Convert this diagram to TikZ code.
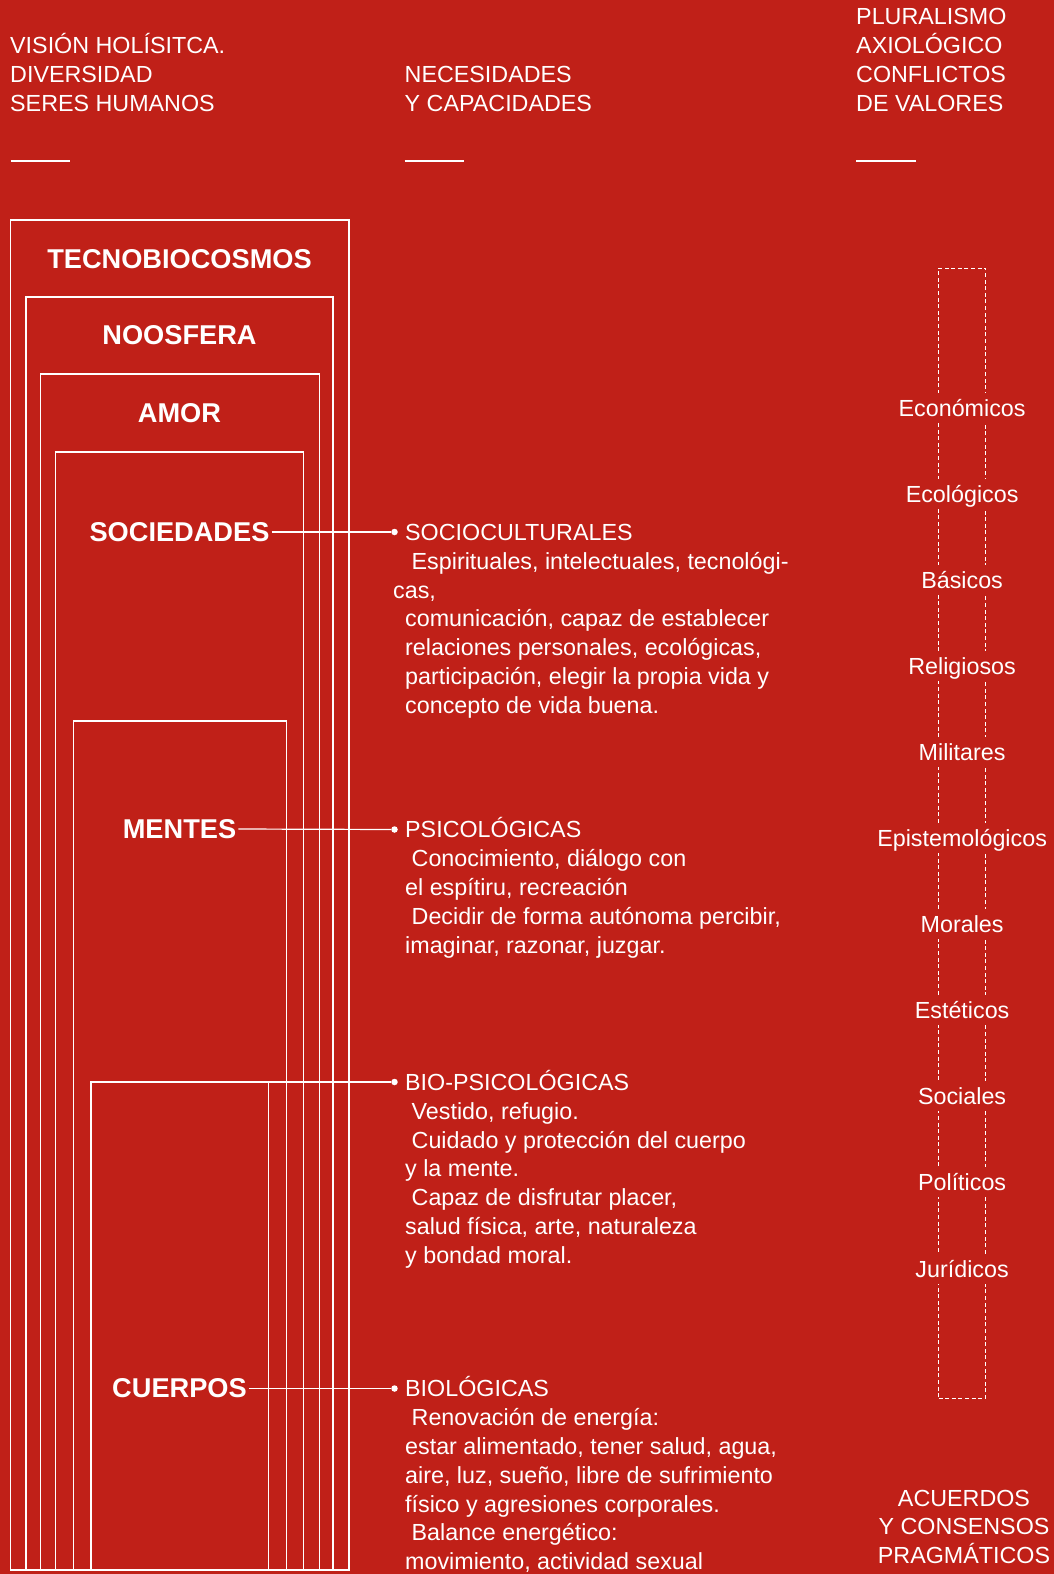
\documentclass[tikz,border=0pt]{standalone}
\usepackage{fontspec}
\setmainfont{Liberation Sans}
\definecolor{bgred}{HTML}{C02018}
\begin{document}
\begin{tikzpicture}[x=1pt,y=-1pt,
  frame/.style={draw=white, line width=1.2pt, inner sep=0pt, outer sep=0pt},
  title/.style={text=white, font=\fontsize{27.2}{32}\selectfont\bfseries, inner xsep=2pt, inner ysep=0pt},
  body/.style={text=white, font=\fontsize{23.3}{28.8}\selectfont, align=left, inner sep=0pt},
  hdr/.style={body},
  dotn/.style={circle, fill=white, minimum size=6.5pt, inner sep=0pt},
  link/.style={draw=white, line width=1.2pt},
  rule/.style={draw=white, line width=2pt},
  dashcol/.style={draw=white, line width=1pt, dash pattern=on 4pt off 2.6pt, inner sep=0pt},
  val/.style={text=white, fill=bgred, font=\fontsize{23.3}{28.8}\selectfont, text height=22pt, text depth=5pt, inner xsep=1pt, inner ysep=1.5pt}]

% canvas
\fill[bgred] (0,0) rectangle (1054,1574);
\useasboundingbox (0,0) rectangle (1054,1574);

% column headings (multi-line nodes sit on the baseline of their last line)
\node[hdr, anchor=base west] (hL) at (10,111.3) {VISIÓN HOLÍSITCA.\\DIVERSIDAD\\SERES HUMANOS};
\node[hdr, anchor=base west] (hM) at (404.5,111.3) {NECESIDADES\\Y CAPACIDADES};
\node[hdr, anchor=base west] (hR) at (856,111.3) {PLURALISMO\\AXIOLÓGICO\\CONFLICTOS\\DE VALORES};
\draw[rule] (10.7,160.6) -- (69.5,160.6);
\draw[rule] (404.5,160.6) -- (463.5,160.6);
\draw[rule] (856,160.6) -- (915.5,160.6);

% nested spheres
\node[frame, minimum width=338.3pt, minimum height=1350pt] (bx1) at (179.85,895) {};
\node[frame, minimum width=307pt,   minimum height=1273pt] (bx2) at (179.5,933.5) {};
\node[frame, minimum width=279pt,   minimum height=1196pt] (bx3) at (179.65,972) {};
\node[frame, minimum width=248pt,   minimum height=1118pt] (bx4) at (179.85,1011) {};
\node[frame, minimum width=213pt,   minimum height=849pt]  (bx5) at (179.65,1145.5) {};
\node[frame, minimum width=177.3pt, minimum height=488pt]  (bx6) at (179.65,1326) {};

\node[title] (tecno) at (179.5,259) {TECNOBIOCOSMOS};
\node[title] (noos)  at (179.5,335.5) {NOOSFERA};
\node[title] (amor)  at (179.5,413.5) {AMOR};
\node[title] (soc)   at (179.5,532) {SOCIEDADES};
\node[title] (ment)  at (179.5,829) {MENTES};
\node[title] (cuer)  at (179.5,1388.5) {CUERPOS};

% needs and capacities
\node[dotn] (d1) at (394.5,532) {};
\node[dotn] (d2) at (394.5,829.5) {};
\node[dotn] (d3) at (394.5,1082) {};
\node[dotn] (d4) at (394.5,1388.5) {};

\draw[link] (soc.east) -- (d1);
\draw[link] (ment.east) -- (d2);
\draw[link] (bx6.north east) -- (d3);
\draw[link] (cuer.east) -- (d4);

\node[body, anchor=base west] (n1) at (405,713.2) {SOCIOCULTURALES\\
\hspace*{6.5pt}Espirituales, intelectuales, tecnológi-\\
\hspace*{-12pt}cas,\\
comunicación, capaz de establecer\\
relaciones personales, ecológicas,\\
participación, elegir la propia vida y\\
concepto de vida buena.};

\node[body, anchor=base west] (n2) at (405,953.1) {PSICOLÓGICAS\\
\hspace*{6.5pt}Conocimiento, diálogo con\\
el espítiru, recreación\\
\hspace*{6.5pt}Decidir de forma autónoma percibir,\\
imaginar, razonar, juzgar.};

\node[body, anchor=base west] (n3) at (405,1263.2) {BIO-PSICOLÓGICAS\\
\hspace*{6.5pt}Vestido, refugio.\\
\hspace*{6.5pt}Cuidado y protección del cuerpo\\
y la mente.\\
\hspace*{6.5pt}Capaz de disfrutar placer,\\
salud física, arte, naturaleza\\
y bondad moral.};

\node[body, anchor=base west] (n4) at (405,1569.7) {BIOLÓGICAS\\
\hspace*{6.5pt}Renovación de energía:\\
estar alimentado, tener salud, agua,\\
aire, luz, sueño, libre de sufrimiento\\
físico y agresiones corporales.\\
\hspace*{6.5pt}Balance energético:\\
movimiento, actividad sexual};

% value plurality column
\node[dashcol, minimum width=47.2pt, minimum height=1130pt] (col) at (962.1,833) {};
\foreach \t [count=\i] in {Económicos,Ecológicos,Básicos,Religiosos,Militares,Epistemológicos,Morales,Estéticos,Sociales,Políticos,Jurídicos}
  \node[val] (v\i) at (962.1,{407.5+86.1*(\i-1)}) {\t};

\node[hdr, align=center, anchor=base] (acu) at (964,1563.6) {ACUERDOS\\Y CONSENSOS\\PRAGMÁTICOS};
\end{tikzpicture}
\end{document}
